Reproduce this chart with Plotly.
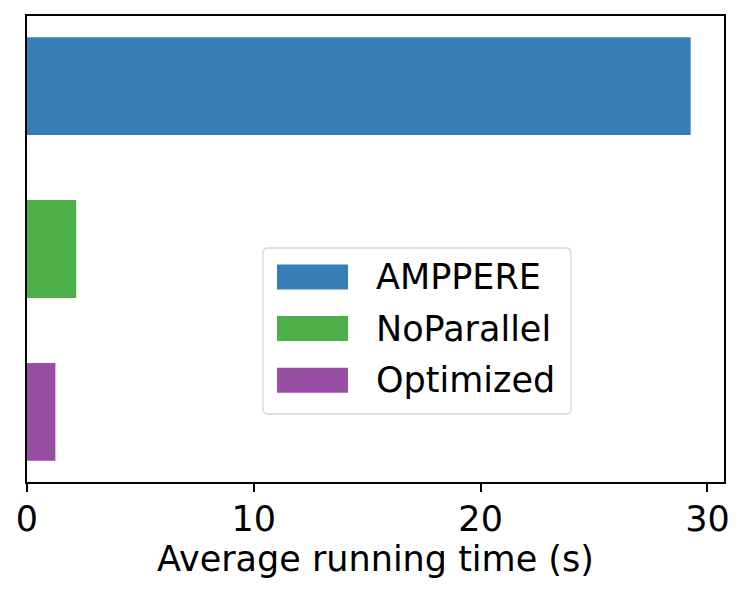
import plotly.graph_objects as go

# Average running time per method (seconds)
methods = ["AMPPERE", "NoParallel", "Optimized"]
avg_time = [29.26, 2.17, 1.25]
colors = ["#377eb8", "#4daf4a", "#984ea3"]
x_ticks = [0, 10, 20, 30]

W, H = 747, 591
L, R, T, B = 27, 23, 16, 109
FONT = "DejaVu Sans"
FS = 35


def px_x(px):
    """pixel x -> paper x"""
    return (px - L) / (W - L - R)


def px_y(py):
    """pixel y -> paper y"""
    return (H - B - py) / (H - T - B)


fig = go.Figure()
for name, t, c in zip(methods, avg_time, colors):
    fig.add_trace(go.Bar(
        x=[t], y=[name], orientation="h", name=name,
        marker=dict(color=c, line=dict(width=0)), width=0.6,
        showlegend=False,
    ))

# Hand-drawn legend box (matplotlib style: wide swatches, rounded frame)
x0, x1, y0, y1, r = px_x(263), px_x(571), px_y(414), px_y(248), 5
rx, ry = r / (W - L - R), r / (H - T - B)
frame = (
    f"M {x0 + rx},{y0} L {x1 - rx},{y0} Q {x1},{y0} {x1},{y0 + ry} "
    f"L {x1},{y1 - ry} Q {x1},{y1} {x1 - rx},{y1} "
    f"L {x0 + rx},{y1} Q {x0},{y1} {x0},{y1 - ry} "
    f"L {x0},{y0 + ry} Q {x0},{y0} {x0 + rx},{y0} Z"
)
fig.add_shape(type="path", path=frame, xref="paper", yref="paper",
              fillcolor="rgba(255,255,255,0.8)",
              line=dict(color="#d6d6d6", width=1.3), layer="above")

row_y = [277, 328.5, 380.3]
for name, c, cy in zip(methods, colors, row_y):
    fig.add_shape(type="rect", xref="paper", yref="paper",
                  x0=px_x(277), x1=px_x(348),
                  y0=px_y(cy + 12.5), y1=px_y(cy - 12.5),
                  fillcolor=c, line=dict(width=0), layer="above")
    fig.add_annotation(x=px_x(374), y=px_y(cy), xref="paper", yref="paper",
                       text=name, showarrow=False, xanchor="left",
                       yanchor="middle", font=dict(family=FONT, size=FS, color="black"))

fig.update_layout(
    width=W, height=H,
    margin=dict(l=L, r=R, t=T, b=B),
    barmode="overlay",
    plot_bgcolor="white", paper_bgcolor="white",
    font=dict(family=FONT, size=FS, color="black"),
    showlegend=False,
)
fig.update_xaxes(
    range=[0, 30.73], tickvals=x_ticks, ticks="outside", ticklen=8,
    tickwidth=1.5, tickcolor="black", showline=True, linecolor="black",
    linewidth=1.5, mirror=True, showgrid=False, zeroline=False,
    title=dict(text="Average running time (s)", standoff=0,
               font=dict(family=FONT, size=FS)),
    tickfont=dict(family=FONT, size=FS), ticklabelstandoff=-3,
    automargin=False,
)
fig.update_yaxes(
    range=[2.43, -0.43], showticklabels=False, ticks="",
    showline=True, linecolor="black", linewidth=1.5, mirror=True,
    showgrid=False, zeroline=False, automargin=False,
)

# drop the browser's default 8px body margin so the figure sits at 0,0
fig.write_html("out.html", config={"displayModeBar": False},
               post_script="document.body.style.margin='0';")
